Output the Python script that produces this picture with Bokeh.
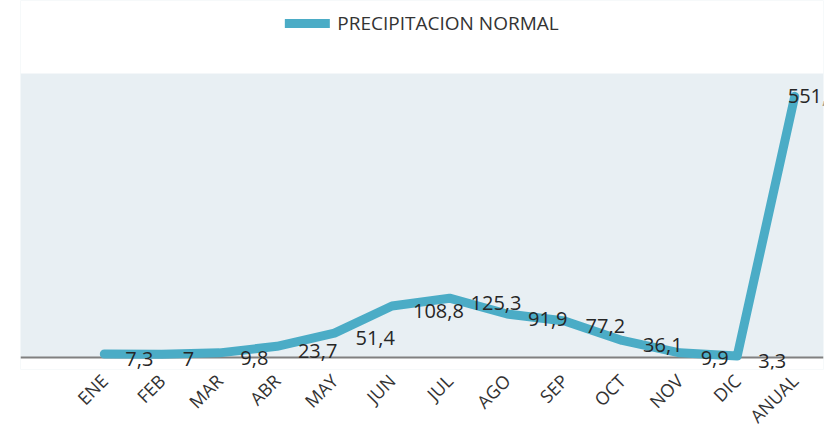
from bokeh.plotting import figure
from bokeh.models import Range1d, FixedTicker, Legend, LegendItem, ColumnDataSource, BoxAnnotation, Span
from bokeh.core.properties import value
from bokeh.embed import file_html
from bokeh.resources import INLINE

# Data
months = ["ENE", "FEB", "MAR", "ABR", "MAY", "JUN", "JUL", "AGO", "SEP", "OCT", "NOV", "DIC", "ANUAL"]
precip = [7.3, 7, 9.8, 23.7, 51.4, 108.8, 125.3, 91.9, 77.2, 36.1, 9.9, 3.3, 551.7]
series_name = "PRECIPITACION NORMAL"
y_max = 600

xs = list(range(len(months)))
labels = [f"{v:g}".replace(".", ",") for v in precip]
src = ColumnDataSource(dict(x=xs, y=precip, lab=labels))
src_months = ColumnDataSource(dict(x=xs[:-1], y=precip[:-1], lab=labels[:-1]))
src_total = ColumnDataSource(dict(x=xs[-1:], y=precip[-1:], lab=labels[-1:]))

LINE = "#4bacc6"
FONT = "Open Sans"
PX_PER_UNIT = 284 / y_max

# frame spans canvas top to 12px below the baseline; bands above y_max and below 0 are white
p = figure(width=832, height=439, output_backend="svg", toolbar_location=None,
           x_range=Range1d(-0.5 - 55 / 57.5, len(months) - 0.5),
           y_range=Range1d(-12 / PX_PER_UNIT, 357 / PX_PER_UNIT),
           y_axis_location=None, min_border_left=20, min_border_right=9,
           min_border_top=0, min_border_bottom=70)
p.background_fill_color = "#e8eff3"
p.border_fill_color = "white"
p.outline_line_color = None
p.xgrid.visible = False
p.ygrid.visible = False

p.add_layout(BoxAnnotation(bottom=y_max, fill_color="white", fill_alpha=1.0,
                           line_color=None, level="underlay"))
p.add_layout(BoxAnnotation(top=0, fill_color="white", fill_alpha=1.0,
                           line_color=None, level="underlay"))
p.add_layout(Span(location=0, dimension="width", line_color="#808080",
                  line_width=2, level="underlay"))

r = p.line("x", "y", source=src, line_width=9, line_color=LINE,
           line_cap="round", line_join="round")

p.text("x", "y", text="lab", source=src_months, x_offset=21, y_offset=5,
       text_align="left", text_baseline="middle",
       text_font=value(FONT), text_font_size="20px", text_color="#262626")
p.text("x", "y", text="lab", source=src_total, x_offset=-7, y_offset=0,
       text_align="left", text_baseline="middle",
       text_font=value(FONT), text_font_size="20px", text_color="#262626")

ax = p.xaxis[0]
ax.ticker = FixedTicker(ticks=xs)
ax.major_label_overrides = {i: m for i, m in zip(xs, months)}
ax.major_label_orientation = 0.785398
ax.major_label_text_font = FONT
ax.major_label_text_font_size = "18px"
ax.major_label_text_color = "#333333"
ax.major_label_standoff = 2
ax.major_tick_line_color = None
ax.minor_tick_line_color = None
ax.axis_line_color = None

legend = Legend(items=[LegendItem(label=series_name, renderers=[r])],
                location="top_center", orientation="horizontal",
                glyph_width=45, glyph_height=20, label_height=20,
                label_standoff=8, padding=0, margin=10, spacing=0,
                border_line_color=None, background_fill_alpha=0,
                label_text_font=FONT, label_text_font_size="19px",
                label_text_color="#333333")
p.add_layout(legend, "center")

open("out.html", "w").write(file_html(p, INLINE))
